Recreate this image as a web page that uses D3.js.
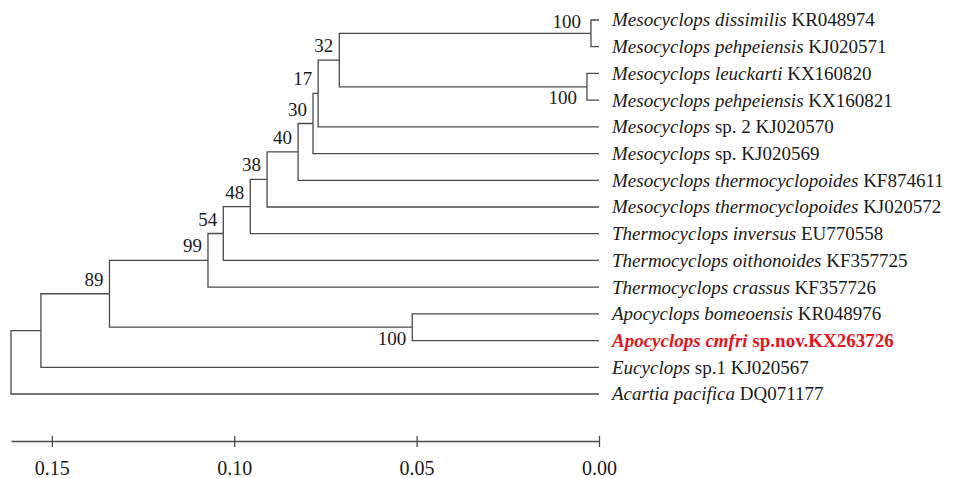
<!DOCTYPE html>
<html>
  <head>
    <meta charset="utf-8">
    <title>Phylogenetic tree</title>
    <script src="https://d3js.org/d3.v7.min.js"></script>
    <style>
      body { margin: 0; background: #fff; }
      .branch { fill: none; stroke: #4a4a4a; stroke-width: 1.3; }
    </style>
  </head>
  <body>
    <script>
      // leaves, top to bottom
      var leafGenus = [
        "Mesocyclops dissimilis", "Mesocyclops pehpeiensis", "Mesocyclops leuckarti",
        "Mesocyclops pehpeiensis", "Mesocyclops", "Mesocyclops",
        "Mesocyclops thermocyclopoides", "Mesocyclops thermocyclopoides",
        "Thermocyclops inversus", "Thermocyclops oithonoides", "Thermocyclops crassus",
        "Apocyclops bomeoensis", "Apocyclops cmfri", "Eucyclops", "Acartia pacifica"
      ];
      var leafRest = [
        " KR048974", " KJ020571", " KX160820", " KX160821", " sp. 2 KJ020570",
        " sp. KJ020569", " KF874611", " KJ020572", " EU770558", " KF357725",
        " KF357726", " KR048976", " sp.nov.KX263726", " sp.1 KJ020567", " DQ071177"
      ];
      var leafParent = ["n1", "n1", "n2", "n2", "n4", "n5", "n6", "n7", "n8", "n9", "n10", "n11", "n11", "n13", "root"];

      // internal nodes: id, parent, distance from tips, bootstrap
      var cladeIds     = ["n1", "n2", "n3", "n4", "n5", "n6", "n7", "n8", "n9", "n10", "n11", "n12", "n13", "root"];
      var cladeParent  = ["n3", "n3", "n4", "n5", "n6", "n7", "n8", "n9", "n10", "n12", "n12", "n13", "root", ""];
      var cladeHeight  = [0.0022, 0.0033, 0.0712, 0.0770, 0.0784, 0.0825, 0.0910, 0.0956, 0.1030, 0.1072, 0.0512, 0.1342, 0.1530, 0.1612];
      var cladeSupport = [100, 100, 32, 17, 30, 40, 38, 48, 54, 99, 100, 89, null, null];

      var axisTicks = [0.15, 0.10, 0.05, 0.00];
      var highlightLeaf = 12;

      var width = 965, height = 478;
      var serifFont = "'Liberation Serif'";
      var ink = "#1a1a1a";

      var table = [];
      leafGenus.forEach(function(g, i) {
        table.push({id: "L" + i, parent: leafParent[i], height: 0, support: null, leaf: i});
      });
      cladeIds.forEach(function(id, i) {
        table.push({id: id, parent: cladeParent[i] || null, height: cladeHeight[i], support: cladeSupport[i], leaf: -1});
      });

      var root = d3.stratify()
          .id(function(d) { return d.id; })
          .parentId(function(d) { return d.parent; })(table);

      var x = d3.scaleLinear()
          .domain([cladeHeight[cladeHeight.length - 1], 0])
          .range([11, 599]);

      var y = d3.scalePoint()
          .domain(d3.range(leafGenus.length))
          .range([20, 394]);

      root.eachAfter(function(n) {
        n.px = x(n.data.height);
        if (n.children) {
          var ext = d3.extent(n.children, function(c) { return c.py; });
          n.py = (ext[0] + ext[1]) / 2;
        } else {
          n.py = y(n.data.leaf);
        }
      });

      var svg = d3.select("body").append("svg")
          .attr("width", width)
          .attr("height", height);

      svg.append("g").selectAll("path")
        .data(root.links())
        .enter().append("path")
          .attr("class", "branch")
          .attr("d", function(l) {
            return "M" + l.source.px + "," + l.source.py + "V" + l.target.py + "H" + l.target.px;
          });

      // tip labels
      var labels = svg.append("g").selectAll("text")
        .data(root.leaves())
        .enter().append("text")
          .attr("x", function(d) { return d.px + 13; })
          .attr("y", function(d) { return d.py; })
          .attr("dy", "0.34em")
          .style("font-family", serifFont)
          .style("font-size", "19px")
          .style("fill", function(d) { return d.data.leaf === highlightLeaf ? "#e3141c" : ink; })
          .style("font-weight", function(d) { return d.data.leaf === highlightLeaf ? "bold" : null; });
      labels.append("tspan")
          .style("font-style", "italic")
          .text(function(d) { return leafGenus[d.data.leaf]; });
      labels.append("tspan")
          .text(function(d) { return leafRest[d.data.leaf]; });

      // bootstrap values
      var place = {n1: "top", n2: "bottom", n11: "bottom"};
      svg.append("g").selectAll("text")
        .data(root.descendants().filter(function(d) { return d.data.support != null; }))
        .enter().append("text")
          .attr("text-anchor", "end")
          .style("font-family", serifFont)
          .style("font-size", "19px")
          .style("fill", ink)
          .attr("x", function(d) {
            var p = place[d.id];
            return d.px - (p === "top" || d.id === "n2" ? 10 : 6);
          })
          .attr("y", function(d) {
            var p = place[d.id];
            if (p === "top") return d3.min(d.children, function(c) { return c.py; }) + 8;
            if (p === "bottom") return d3.max(d.children, function(c) { return c.py; }) + 4;
            return d.py - 8;
          })
          .text(function(d) { return d.data.support; });

      // scale axis
      var axis = d3.axisBottom(x)
          .tickValues(axisTicks)
          .tickFormat(d3.format(".2f"))
          .tickSizeOuter(0);

      var ag = svg.append("g")
          .attr("transform", "translate(0,441)")
          .call(axis);
      ag.select(".domain").attr("stroke", "#4a4a4a").attr("stroke-width", 1.3);
      ag.selectAll(".tick line").attr("stroke", "#4a4a4a").attr("stroke-width", 1.3)
          .attr("y1", -5).attr("y2", 6);
      ag.selectAll(".tick text")
          .attr("y", 27)
          .attr("dy", "0.34em")
          .style("font-size", "20px")
          .style("font-family", serifFont)
          .style("fill", ink);
    </script>
  </body>
</html>
